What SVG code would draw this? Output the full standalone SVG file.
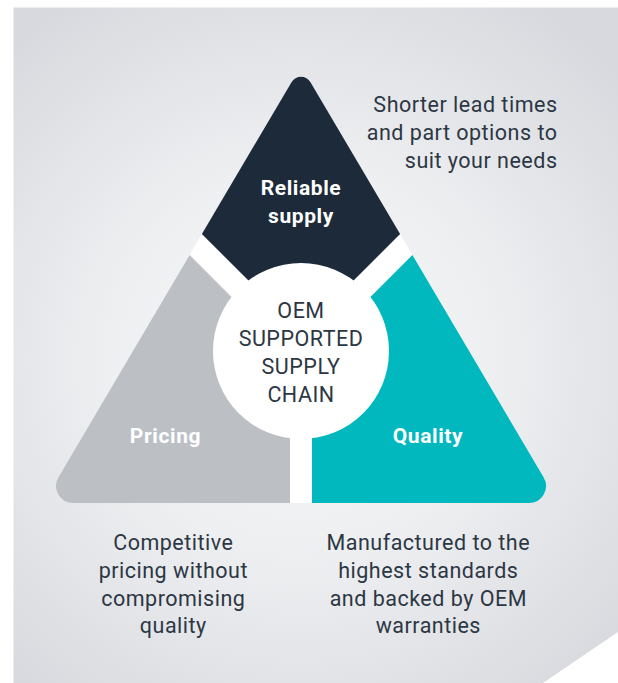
<svg xmlns="http://www.w3.org/2000/svg" width="618" height="683" viewBox="0 0 618 683">
<defs>
<radialGradient id="bg" cx="300" cy="360" r="430" gradientUnits="userSpaceOnUse">
<stop offset="0" stop-color="#f7f7f9"/>
<stop offset="0.45" stop-color="#eeeff1"/>
<stop offset="1" stop-color="#d8d9de"/>
</radialGradient>
<style>
.body{font-family:Roboto,"Liberation Sans",sans-serif;font-size:21.5px;fill:#2c3744;letter-spacing:0.5px}
.lbl{font-family:Roboto,"Liberation Sans",sans-serif;font-size:21px;font-weight:bold;fill:#ffffff;text-anchor:middle;letter-spacing:0.6px}
.c{text-anchor:middle}
.r{text-anchor:end}
</style>
</defs>
<rect width="618" height="683" fill="#ffffff"/>
<polygon points="13.5,7.5 618,7.5 618,632 543,683 13.5,683" fill="url(#bg)"/>
<path d="M 291.5 82.2 A 11 11 0 0 1 310.5 82.2 L 543.6 477.3 A 17 17 0 0 1 529 503 L 73 503 A 17 17 0 0 1 58.4 477.3 Z" fill="#ffffff"/>
<g id="reliable-supply">
<path d="M 201.9 234 L 291.5 82.2 A 11 11 0 0 1 310.5 82.2 L 400.1 234 L 301 333 Z" fill="#1d2a3a"/>
<text class="lbl" x="301" y="195">Reliable</text>
<text class="lbl" x="301" y="223">supply</text>
</g>
<g id="pricing">
<path d="M 189.6 255 L 290 355.4 L 290 503 L 73 503 A 17 17 0 0 1 58.4 477.3 Z" fill="#bcc0c5"/>
<text class="lbl" x="165.5" y="442.5">Pricing</text>
</g>
<g id="quality">
<path d="M 412.4 255 L 312 355.4 L 312 503 L 529 503 A 17 17 0 0 0 543.6 477.3 Z" fill="#00b8be"/>
<text class="lbl" x="428" y="442.5">Quality</text>
</g>
<g id="oem-center">
<circle cx="301" cy="351" r="88" fill="#ffffff"/>
<text class="body c" x="301" y="317.5">OEM</text>
<text class="body c" x="301" y="345.7">SUPPORTED</text>
<text class="body c" x="301" y="374">SUPPLY</text>
<text class="body c" x="301" y="401.7">CHAIN</text>
</g>
<g id="note-reliable">
<text class="body r" x="557.5" y="112">Shorter lead times</text>
<text class="body r" x="557.5" y="140">and part options to</text>
<text class="body r" x="557.5" y="168">suit your needs</text>
</g>
<g id="note-pricing">
<text class="body c" x="173.3" y="550">Competitive</text>
<text class="body c" x="173.3" y="577.7">pricing without</text>
<text class="body c" x="173.3" y="605.7">compromising</text>
<text class="body c" x="173.3" y="633.3">quality</text>
</g>
<g id="note-quality">
<text class="body c" x="428.3" y="550">Manufactured to the</text>
<text class="body c" x="428.3" y="577.7">highest standards</text>
<text class="body c" x="428.3" y="605.7">and backed by OEM</text>
<text class="body c" x="428.3" y="633.3">warranties</text>
</g>
<g id="connectors"/>
</svg>
